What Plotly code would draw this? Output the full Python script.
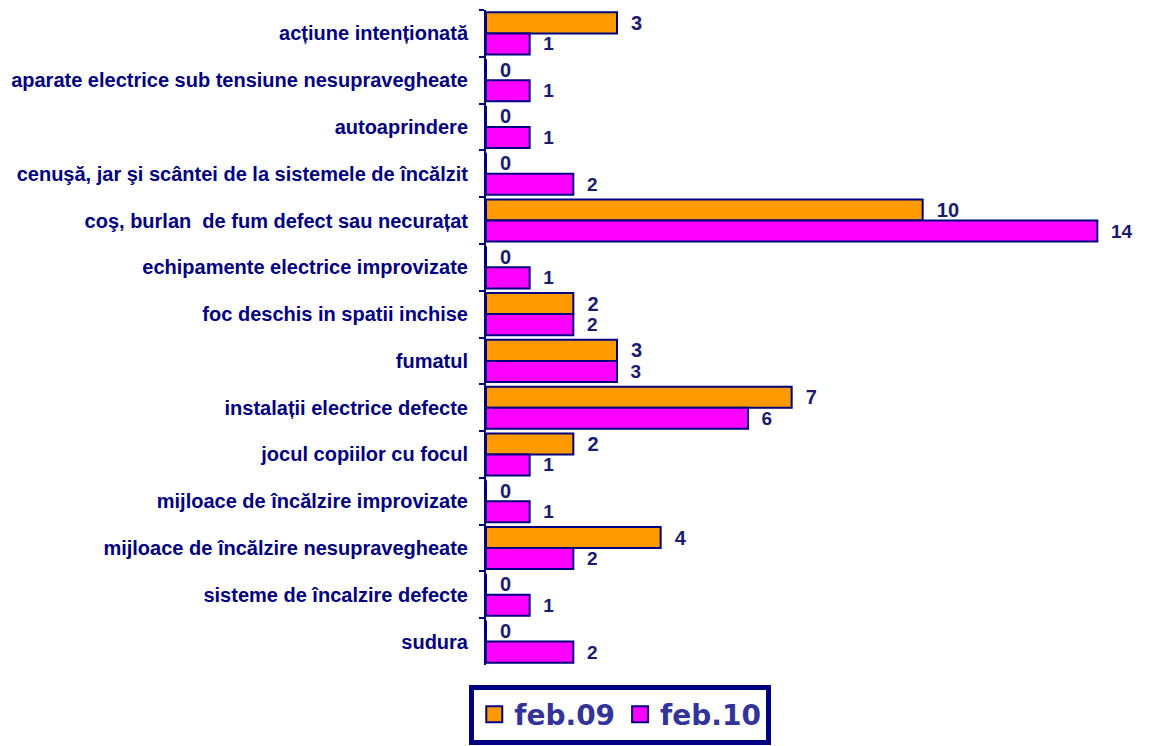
import plotly.graph_objects as go

categories = [
    "acțiune intenționată",
    "aparate electrice sub tensiune nesupravegheate",
    "autoaprindere",
    "cenuşă, jar şi scântei de la sistemele de încălzit",
    "coş, burlan  de fum defect sau necurațat",
    "echipamente electrice improvizate",
    "foc deschis in spatii inchise",
    "fumatul",
    "instalații electrice defecte",
    "jocul copiilor cu focul",
    "mijloace de încălzire improvizate",
    "mijloace de încălzire nesupravegheate",
    "sisteme de încalzire defecte",
    "sudura",
]
feb09 = [3, 0, 0, 0, 10, 0, 2, 3, 7, 2, 0, 4, 0, 0]
feb10 = [1, 1, 1, 2, 14, 1, 2, 3, 6, 1, 1, 2, 1, 2]
series_names = ["feb.09", "feb.10"]
series_colors = ["#FF9900", "#FF00FF"]

navy = "#000080"
lab09 = dict(family="Liberation Sans, Arial", size=20, color="#1a1a6e", weight="bold")
lab10 = dict(family="Liberation Sans, Arial", size=19, color="#1a1a6e", weight="bold")

fig = go.Figure()
fig.add_trace(go.Bar(
    name=series_names[0], y=categories, x=feb09, orientation="h",
    marker=dict(color=series_colors[0], line=dict(color=navy, width=2)),
    texttemplate="\u00a0\u00a0%{x}", textposition="outside", textfont=lab09,
    constraintext="none", cliponaxis=False, showlegend=False,
))
fig.add_trace(go.Bar(
    name=series_names[1], y=categories, x=feb10, orientation="h",
    marker=dict(color=series_colors[1], line=dict(color=navy, width=2)),
    texttemplate="\u00a0\u00a0%{x}", textposition="outside", textfont=lab10,
    constraintext="none", cliponaxis=False, showlegend=False,
))
# legend entries with large square swatches
for nm, col in zip(series_names, series_colors):
    fig.add_trace(go.Scatter(
        name=nm, x=[None], y=[None], mode="markers",
        marker=dict(symbol="square", size=19, color=col, line=dict(color=navy, width=2)),
        showlegend=True,
    ))

fig.update_layout(
    width=1150, height=746,
    barmode="group", bargap=0.1, bargroupgap=0,
    plot_bgcolor="white", paper_bgcolor="white",
    margin=dict(l=478, r=17, t=2, b=89),
    showlegend=True,
    legend=dict(
        orientation="h", x=0.205, xanchor="center", y=-0.03, yanchor="top",
        bordercolor=navy, borderwidth=5, bgcolor="white",
        font=dict(family="DejaVu Sans, Verdana", size=28, color="#333399", weight="bold"),
        traceorder="normal", itemwidth=30, tracegroupgap=0,
    ),
    xaxis=dict(range=[0, 15], visible=False, showgrid=False, zeroline=False),
    yaxis=dict(
        autorange="reversed", showline=True, linecolor=navy, linewidth=2,
        ticks="outside", tickson="boundaries", ticklen=5, tickcolor=navy, tickwidth=2,
        tickfont=dict(family="Liberation Sans, Arial", size=20, color=navy, weight="bold"),
        showgrid=False, ticklabelstandoff=12, automargin=False,
    ),
)

fig.write_html("out.html")
